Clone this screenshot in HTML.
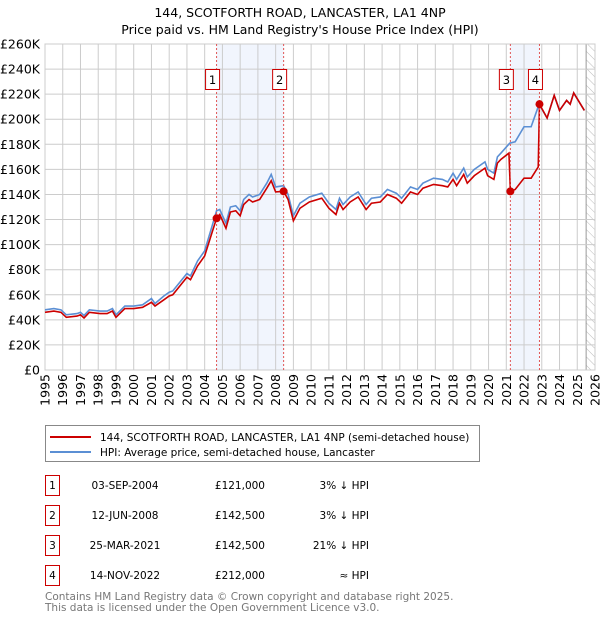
<!DOCTYPE html>
<html><head><meta charset="utf-8"><style>
body{margin:0;background:#fff;font-family:"DejaVu Sans","Liberation Sans",sans-serif;}
svg text{font-family:"DejaVu Sans","Liberation Sans",sans-serif;}
</style></head><body>
<svg id="chart" width="600" height="620" viewBox="0 0 600 620" xmlns="http://www.w3.org/2000/svg">
<defs><pattern id="hatch" width="6" height="6" patternUnits="userSpaceOnUse" patternTransform="rotate(-45)"><line x1="0" y1="0" x2="0" y2="6" stroke="#bbb" stroke-width="1"/></pattern></defs>
<text x="300" y="17" text-anchor="middle" font-size="12.5">144, SCOTFORTH ROAD, LANCASTER, LA1 4NP</text>
<text x="300" y="34" text-anchor="middle" font-size="12.5">Price paid vs. HM Land Registry's House Price Index (HPI)</text>
<g id="shade"></g><g id="grid"></g><g id="series"></g><g id="marks"></g><g id="axes"></g>
<g>
<rect x="45.5" y="425.5" width="434" height="36" fill="#fff" stroke="#888"/>
<line x1="50" y1="437" x2="91" y2="437" stroke="#cc0000" stroke-width="2"/>
<text x="100" y="441" font-size="10.5">144, SCOTFORTH ROAD, LANCASTER, LA1 4NP (semi-detached house)</text>
<line x1="50" y1="452" x2="91" y2="452" stroke="#5b8fd4" stroke-width="2"/>
<text x="100" y="456" font-size="10.5">HPI: Average price, semi-detached house, Lancaster</text>
</g>
<g id="table" font-size="10.5"></g>
<text x="45" y="600" font-size="10.5" fill="#777">Contains HM Land Registry data © Crown copyright and database right 2025.</text>
<text x="45" y="611" font-size="10.5" fill="#777">This data is licensed under the Open Government Licence v3.0.</text>
</svg>
<script>
const hpiYears=[1995.0,1995.5,1995.9,1996.2,1996.8,1997.0,1997.2,1997.5,1998.1,1998.5,1998.8,1999.0,1999.5,2000.0,2000.5,2001.0,2001.2,2001.7,2002.0,2002.2,2002.6,2003.0,2003.2,2003.6,2004.0,2004.4,2004.67,2004.85,2005.2,2005.45,2005.75,2006.0,2006.2,2006.5,2006.7,2007.1,2007.5,2007.75,2008.0,2008.45,2008.7,2009.0,2009.37,2009.9,2010.6,2011.0,2011.4,2011.6,2011.8,2012.2,2012.65,2013.1,2013.4,2013.9,2014.3,2014.8,2015.1,2015.6,2016.0,2016.3,2016.9,2017.4,2017.7,2018.0,2018.2,2018.6,2018.8,2019.2,2019.8,2019.95,2020.3,2020.5,2020.7,2021.2,2021.5,2022.0,2022.4,2022.85,2023.3,2023.7,2024.0,2024.4,2024.6,2024.8,2025.1,2025.4];
const hpiValues=[48,49,48,44,45,46,43.5,48,47,47,49,44,51,51,52,57,53,59,62,63,70,77,75,87,95,114,127,128,117,130,131,127,136,140,138,140,149,156,146,147,140,123,133,138,141,133,128,137,132,138,142,132,137,138,144,141,137,146,144,149,153,152,150,157,152,161,154,160,166,160,157,170,173,181,182,194,194,212,201,219,207,215,212,221,214,207];
const priceYears=[1995.0,1995.5,1995.9,1996.2,1996.8,1997.0,1997.2,1997.5,1998.1,1998.5,1998.8,1999.0,1999.5,2000.0,2000.5,2001.0,2001.2,2001.7,2002.0,2002.2,2002.6,2003.0,2003.2,2003.6,2004.0,2004.4,2004.67,2004.85,2005.2,2005.45,2005.75,2006.0,2006.2,2006.5,2006.7,2007.1,2007.5,2007.75,2008.0,2008.45,2008.7,2009.0,2009.37,2009.9,2010.6,2011.0,2011.4,2011.6,2011.8,2012.2,2012.65,2013.1,2013.4,2013.9,2014.3,2014.8,2015.1,2015.6,2016.0,2016.3,2016.9,2017.4,2017.7,2018.0,2018.2,2018.6,2018.8,2019.2,2019.8,2019.95,2020.3,2020.5,2020.7,2021.15,2021.23,2021.5,2022.0,2022.4,2022.8,2022.87,2023.3,2023.7,2024.0,2024.4,2024.6,2024.8,2025.1,2025.4];
const priceValues=[46,47,46,42,43,44,41.5,46,45,45,47,42,49,49,50,54,51,56,59,60,67,74,72,83,91,109,121,124,113,126,127,123,132,136,134,136,145,151,142,142.5,136,119,129,134,137,129,124,133,128,134,138,128,133,134,140,137,133,142,140,145,148,147,146,152,147,156,149,155,161,155,152,165,168,173,142.5,144,153,153,162,212,201,219,207,215,212,221,214,207];
const saleLabels=["1","2","3","4"];
const saleYears=[2004.67,2008.45,2021.23,2022.87];
const salePrices=[121,142.5,142.5,212];
const saleDates=["03-SEP-2004","12-JUN-2008","25-MAR-2021","14-NOV-2022"];
const salePriceText=["£121,000","£142,500","£142,500","£212,000"];
const saleHpiText=["3% ↓ HPI","3% ↓ HPI","21% ↓ HPI","≈ HPI"];
const yTicks=[0,20,40,60,80,100,120,140,160,180,200,220,240,260];
const xTicks=[1995,1996,1997,1998,1999,2000,2001,2002,2003,2004,2005,2006,2007,2008,2009,2010,2011,2012,2013,2014,2015,2016,2017,2018,2019,2020,2021,2022,2023,2024,2025,2026];
const hatchStart=2025.5;

const L=45,R=595,T=44,B=370,x0=1995,x1=2026,ymax=260;
const X=v=>L+(v-x0)/(x1-x0)*(R-L);
const Y=v=>B-v/ymax*(B-T);
const NS="http://www.w3.org/2000/svg";
function mk(tag,attrs,parent){const e=document.createElementNS(NS,tag);for(const k in attrs)e.setAttribute(k,attrs[k]);document.getElementById(parent).appendChild(e);return e;}

for(let i=0;i<saleYears.length;i+=2){
 const r=mk('rect',{x:X(saleYears[i]),y:T,width:X(saleYears[i+1])-X(saleYears[i]),height:B-T,fill:'#eef3fc',opacity:0.8},'shade');
 
 
}
const h=mk('rect',{x:X(hatchStart),y:T,width:R-X(hatchStart),height:B-T,fill:'url(#hatch)'},'shade');


const hl=mk('line',{x1:X(hatchStart),x2:X(hatchStart),y1:T,y2:B,stroke:'#999'},'shade');



yTicks.forEach(v=>{
 const g=mk('line',{x1:L,x2:R,y1:Y(v),y2:Y(v),stroke:'#cccccc'},'grid');
 
 
 const t=mk('text',{x:L-5,y:Y(v)+4.5,'text-anchor':'end','font-size':'12.5'},'axes');
 
 
 t.textContent=v===0?'£0':'£'+v+'K';
});
xTicks.forEach(v=>{
 const g=mk('line',{x1:X(v),x2:X(v),y1:T,y2:B,stroke:'#cccccc'},'grid');
 
 
 const t=mk('text',{x:0,y:0,'text-anchor':'end','font-size':'12.5',transform:`translate(${X(v)+4.5},${B+4}) rotate(-90)`},'axes');
 
 
 t.textContent=v;
});
const fr=mk('rect',{x:L,y:T,width:R-L,height:B-T,fill:'none',stroke:'#cccccc'},'grid');



const hp=mk('polyline',{points:hpiYears.map((y,i)=>X(y)+','+Y(hpiValues[i])).join(' '),fill:'none',stroke:'#5b8fd4','stroke-width':1.6},'series');


const pp=mk('polyline',{points:priceYears.map((y,i)=>X(y)+','+Y(priceValues[i])).join(' '),fill:'none',stroke:'#cc0000','stroke-width':1.6},'series');



saleYears.forEach((s,i)=>{
 const l=mk('line',{x1:X(s),x2:X(s),y1:T,y2:B,stroke:'#e05555','stroke-dasharray':'2,2'},'marks');
 
 
 const c=mk('circle',{cx:X(s),cy:Y(salePrices[i]),r:4,fill:'#cc0000'},'marks');
 
 
 const b=mk('rect',{x:X(s)-11,y:69.5,width:14,height:20,fill:'#fff',stroke:'#cc0000'},'marks');
 
 
 const t=mk('text',{x:X(s)-4,y:84,'text-anchor':'middle','font-size':'11.5'},'marks');
 
 
 t.textContent=saleLabels[i];
 const ry=475+i*30;
 const rb=mk('rect',{x:45.5,y:ry+0.5,width:14,height:20,fill:'#fff',stroke:'#cc0000'},'table');
 
 
 const cells=[[52.5,'middle',saleLabels[i]],[125,'middle',saleDates[i]],[265,'end',salePriceText[i]],[369,'end',saleHpiText[i]]];
 cells.forEach(c2=>{
  const tt=mk('text',{x:c2[0],y:ry+14,'text-anchor':c2[1],'font-size':'10.5'},'table');
  
  
  tt.textContent=c2[2];
 });
});
</script>
</body></html>
